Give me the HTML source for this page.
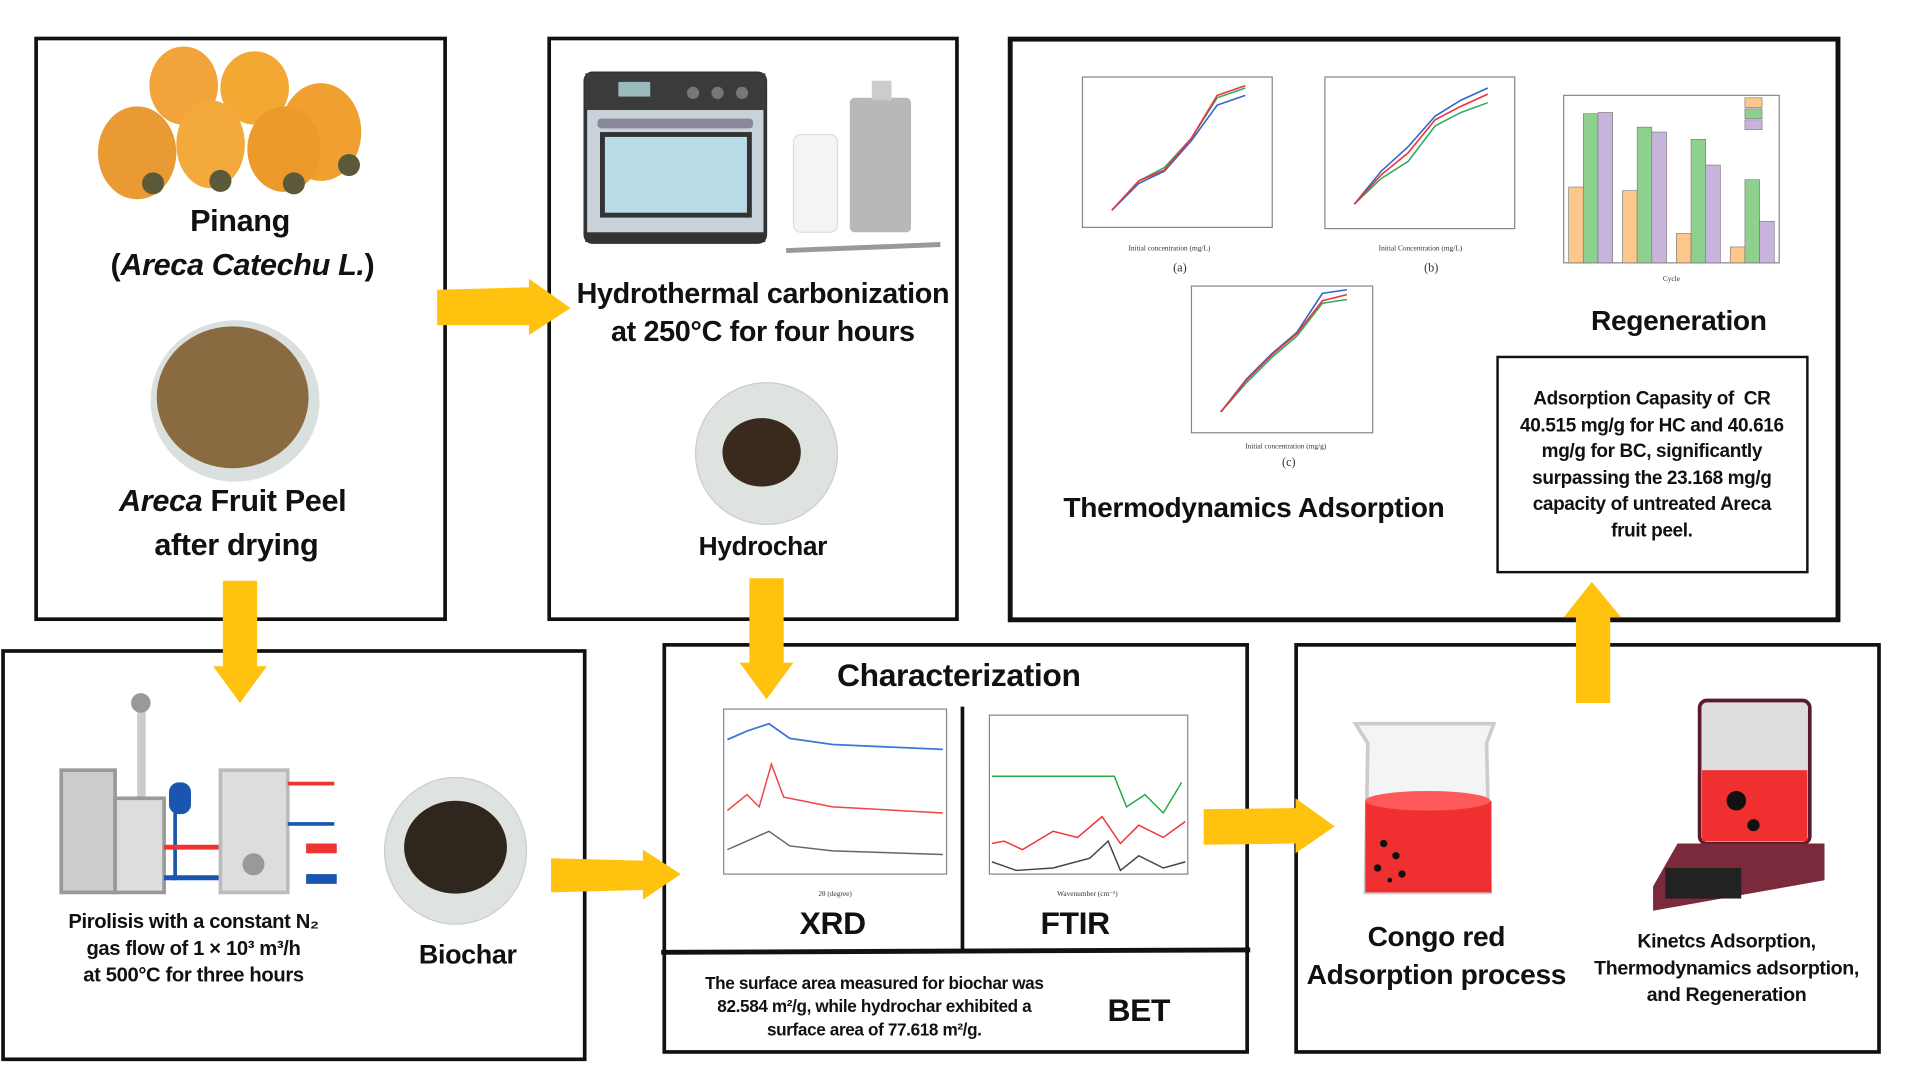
<!DOCTYPE html>
<html><head><meta charset="utf-8"><style>
html,body{margin:0;padding:0;background:#fff;width:1920px;height:1080px;overflow:hidden}
#c{position:absolute;left:0;top:0;width:1545px;height:870px;transform:scale(1.2245,1.2225);transform-origin:0 0;font-family:"Liberation Sans",sans-serif;font-weight:bold;color:#111}
.b{position:absolute;border:3px solid #111;box-sizing:border-box}
.t{position:absolute;text-align:center;white-space:nowrap;transform:translateX(-50%);letter-spacing:-0.3px}
svg{position:absolute;left:0;top:0}
</style></head><body><div id="c">
<div class="b" style="left:28px;top:30px;width:337px;height:478px"></div>
<div class="b" style="left:447px;top:30px;width:336px;height:478px"></div>
<div class="b" style="left:823px;top:30px;width:680px;height:479px;border-width:4px"></div>
<div class="b" style="left:1222px;top:291px;width:255px;height:178px;border-width:2px"></div>
<div class="b" style="left:1px;top:531px;width:478px;height:337px"></div>
<div class="b" style="left:541px;top:526px;width:479px;height:336px"></div>
<div class="b" style="left:1057px;top:526px;width:479px;height:336px"></div>
<svg width="1545" height="870" viewBox="0 0 1545 870">
<line x1="540" y1="779" x2="1021" y2="777" stroke="#111" stroke-width="4"/>
<line x1="786" y1="578" x2="786" y2="778" stroke="#111" stroke-width="3"/>
<g fill="#FFC20E">
<polygon points="357,237 432,235 432,228 466,252 432,274 432,266 357,266"/>
<polygon points="182,475 210,475 210,545 218,545 196,575 174,545 182,545"/>
<polygon points="612,473 640,473 640,542 648,542 626,572 604,542 612,542"/>
<polygon points="450,702 525,704 525,695 556,715 525,736 525,728 450,730"/>
<polygon points="983,662 1058,661 1058,653 1090,676 1058,698 1058,690 983,691"/>
<polygon points="1287,575 1315,575 1315,505 1324,505 1300,476 1277,505 1287,505"/>
</g>
<g>
<ellipse cx="150" cy="70" rx="28" ry="32" fill="#f2a33a"/>
<ellipse cx="208" cy="72" rx="28" ry="30" fill="#f4a834"/>
<ellipse cx="262" cy="108" rx="33" ry="40" fill="#f0a030"/>
<ellipse cx="112" cy="125" rx="32" ry="38" fill="#e99a33"/>
<ellipse cx="172" cy="118" rx="28" ry="36" fill="#f3aa3a"/>
<ellipse cx="232" cy="122" rx="30" ry="35" fill="#ec9a2a"/>
<circle cx="125" cy="150" r="9" fill="#5a5a3a"/><circle cx="180" cy="148" r="9" fill="#5a5a3a"/><circle cx="240" cy="150" r="9" fill="#5a5a3a"/><circle cx="285" cy="135" r="9" fill="#5a5a3a"/>
</g>
<ellipse cx="192" cy="328" rx="69" ry="66" fill="#d9e0dd"/><ellipse cx="190" cy="325" rx="62" ry="58" fill="#8a6a40"/>
<rect x="478" y="60" width="147" height="138" rx="6" fill="#c9d2d8" stroke="#333" stroke-width="3"/>
<rect x="478" y="60" width="147" height="30" fill="#3b3b3b"/>
<rect x="505" y="67" width="26" height="12" fill="#9bb"/>
<circle cx="566" cy="76" r="5" fill="#777"/><circle cx="586" cy="76" r="5" fill="#777"/><circle cx="606" cy="76" r="5" fill="#777"/>
<rect x="488" y="97" width="127" height="8" rx="3" fill="#889"/>
<rect x="492" y="110" width="120" height="66" fill="#b8dce6" stroke="#333" stroke-width="4"/>
<rect x="478" y="190" width="147" height="8" fill="#333"/>
<rect x="648" y="110" width="36" height="80" rx="6" fill="#f4f4f4" stroke="#ddd"/>
<rect x="694" y="80" width="50" height="110" rx="4" fill="#b8b8b8"/><rect x="712" y="66" width="16" height="16" fill="#ccc"/>
<line x1="642" y1="205" x2="768" y2="200" stroke="#999" stroke-width="4"/>
<ellipse cx="626" cy="371" rx="58" ry="58" fill="#dfe3e0" stroke="#ccc"/><ellipse cx="622" cy="370" rx="32" ry="28" fill="#3a2a1e"/>
<rect x="112" y="578" width="7" height="80" fill="#ccc"/><circle cx="115" cy="575" r="8" fill="#999"/>
<rect x="50" y="630" width="44" height="100" fill="#ccc" stroke="#999" stroke-width="3"/>
<rect x="94" y="653" width="40" height="77" fill="#ddd" stroke="#999" stroke-width="3"/>
<rect x="138" y="640" width="18" height="26" rx="8" fill="#1a55b0"/>
<line x1="143" y1="665" x2="143" y2="720" stroke="#1a55b0" stroke-width="3"/>
<line x1="134" y1="693" x2="180" y2="693" stroke="#e33" stroke-width="4"/>
<line x1="134" y1="718" x2="180" y2="718" stroke="#1a55b0" stroke-width="4"/>
<rect x="180" y="630" width="55" height="100" fill="#ddd" stroke="#bbb" stroke-width="3"/><circle cx="207" cy="707" r="9" fill="#999"/>
<line x1="235" y1="641" x2="273" y2="641" stroke="#e33" stroke-width="3"/><line x1="235" y1="674" x2="273" y2="674" stroke="#1a55b0" stroke-width="3"/>
<rect x="250" y="690" width="25" height="8" fill="#e33"/><rect x="250" y="715" width="25" height="8" fill="#1a55b0"/>
<ellipse cx="372" cy="696" rx="58" ry="60" fill="#dfe3e0" stroke="#ccc"/><ellipse cx="372" cy="693" rx="42" ry="38" fill="#2f261e"/>
<polygon points="1107,592 1220,592 1214,608 1217,730 1115,730 1117,608" fill="#f4f4f4" stroke="#ccc" stroke-width="3"/>
<rect x="1115" y="655" width="103" height="75" fill="#f03030"/>
<ellipse cx="1166" cy="655" rx="51" ry="8" fill="#ff5a5a"/>
<g fill="#111"><circle cx="1130" cy="690" r="3"/><circle cx="1140" cy="700" r="3"/><circle cx="1125" cy="710" r="3"/><circle cx="1145" cy="715" r="3"/><circle cx="1135" cy="720" r="2"/></g>
<rect x="1388" y="573" width="90" height="117" rx="6" fill="#ddd" stroke="#5a1a2a" stroke-width="3"/>
<rect x="1390" y="630" width="86" height="58" fill="#f03030"/>
<circle cx="1418" cy="655" r="8" fill="#111"/><circle cx="1432" cy="675" r="5" fill="#111"/>
<polygon points="1370,690 1490,690 1490,720 1350,745 1350,725" fill="#7a2a3a"/>
<rect x="1360" y="710" width="62" height="25" fill="#222"/>
<g font-family="Liberation Serif" font-weight="normal" font-size="6" fill="#333">
<rect x="884" y="63" width="155" height="123" fill="none" stroke="#888"/>
<polyline points="908,172 930,148 951,137 973,113 994,80 1017,72" fill="none" stroke="#3a6" stroke-width="1.3"/>
<polyline points="908,172 930,150 951,140 973,115 994,86 1017,78" fill="none" stroke="#36c" stroke-width="1.3"/>
<polyline points="908,172 930,148 951,139 973,113 994,78 1017,70" fill="none" stroke="#e33" stroke-width="1.3"/>
<text x="955" y="205" text-anchor="middle">Initial concentration (mg/L)</text><text x="958" y="222" font-size="10">(a)</text>
<rect x="1082" y="63" width="155" height="124" fill="none" stroke="#888"/>
<polyline points="1106,167 1128,140 1150,120 1172,95 1193,82 1215,72" fill="none" stroke="#36c" stroke-width="1.3"/>
<polyline points="1106,167 1128,146 1150,132 1172,103 1193,92 1215,84" fill="none" stroke="#3a6" stroke-width="1.3"/>
<polyline points="1106,167 1128,143 1150,125 1172,98 1193,87 1215,77" fill="none" stroke="#e33" stroke-width="1.3"/>
<text x="1160" y="205" text-anchor="middle">Initial Concentration (mg/L)</text><text x="1163" y="222" font-size="10">(b)</text>
<rect x="1277" y="78" width="176" height="137" fill="none" stroke="#888"/>
<g stroke="#777" stroke-width="0.5">
<rect x="1281" y="153" width="12" height="62" fill="#fcc78a"/><rect x="1293" y="93" width="12" height="122" fill="#8ed08e"/><rect x="1305" y="92" width="12" height="123" fill="#c7b3dc"/>
<rect x="1325" y="156" width="12" height="59" fill="#fcc78a"/><rect x="1337" y="104" width="12" height="111" fill="#8ed08e"/><rect x="1349" y="108" width="12" height="107" fill="#c7b3dc"/>
<rect x="1369" y="191" width="12" height="24" fill="#fcc78a"/><rect x="1381" y="114" width="12" height="101" fill="#8ed08e"/><rect x="1393" y="135" width="12" height="80" fill="#c7b3dc"/>
<rect x="1413" y="202" width="12" height="13" fill="#fcc78a"/><rect x="1425" y="147" width="12" height="68" fill="#8ed08e"/><rect x="1437" y="181" width="12" height="34" fill="#c7b3dc"/>
<rect x="1425" y="80" width="14" height="8" fill="#fcc78a"/><rect x="1425" y="89" width="14" height="8" fill="#8ed08e"/><rect x="1425" y="98" width="14" height="8" fill="#c7b3dc"/></g>
<text x="1365" y="230" text-anchor="middle">Cycle</text>
<rect x="973" y="234" width="148" height="120" fill="none" stroke="#888"/>
<polyline points="997,337 1018,310 1039,289 1059,272 1080,240 1100,237" fill="none" stroke="#36c" stroke-width="1.3"/>
<polyline points="997,337 1018,313 1039,292 1059,275 1080,248 1100,245" fill="none" stroke="#3a6" stroke-width="1.3"/>
<polyline points="997,337 1018,311 1039,290 1059,273 1080,246 1100,241" fill="none" stroke="#e33" stroke-width="1.3"/>
<text x="1050" y="367" text-anchor="middle">Initial concentration (mg/g)</text><text x="1047" y="381" font-size="10">(c)</text>
<rect x="591" y="580" width="182" height="135" fill="none" stroke="#888"/>
<polyline points="594,605 610,598 628,592 645,604 680,609 770,613" fill="none" stroke="#3a7ad8" stroke-width="1.5"/>
<polyline points="594,663 610,650 620,660 630,625 640,652 680,660 770,665" fill="none" stroke="#e44" stroke-width="1.2"/>
<polyline points="594,695 610,688 628,680 645,692 680,696 770,699" fill="none" stroke="#666" stroke-width="1.2"/>
<text x="682" y="733" text-anchor="middle">2θ (degree)</text>
<rect x="808" y="585" width="162" height="130" fill="none" stroke="#888"/>
<polyline points="810,635 910,635 920,660 935,650 950,665 965,640" fill="none" stroke="#2a4" stroke-width="1.2"/>
<polyline points="810,690 820,688 835,695 860,680 880,685 900,668 915,690 930,675 950,685 968,672" fill="none" stroke="#e33" stroke-width="1.2"/>
<polyline points="810,705 830,712 860,710 890,702 905,688 915,712 930,700 950,710 968,705" fill="none" stroke="#444" stroke-width="1.2"/>
<text x="888" y="733" text-anchor="middle">Wavenumber (cm⁻¹)</text>
</g>
</svg>
<div class="t" style="left:196px;top:167px;font-size:25px">Pinang</div>
<div class="t" style="left:198px;top:203px;font-size:25px">(<i>Areca Catechu L.</i>)</div>
<div class="t" style="left:190px;top:396px;font-size:25px"><i>Areca</i> Fruit Peel</div>
<div class="t" style="left:193px;top:432px;font-size:25px">after drying</div>
<div class="t" style="left:623px;top:227px;font-size:23.5px">Hydrothermal carbonization</div>
<div class="t" style="left:623px;top:258px;font-size:23.5px">at 250°C for four hours</div>
<div class="t" style="left:623px;top:435px;font-size:21.5px">Hydrochar</div>
<div class="t" style="left:1024px;top:402px;font-size:23px">Thermodynamics Adsorption</div>
<div class="t" style="left:1371px;top:249px;font-size:23px">Regeneration</div>
<div class="t" style="left:1349px;top:316px;font-size:15.5px;line-height:21.5px">Adsorption Capasity of&nbsp; CR<br>40.515 mg/g for HC and 40.616<br>mg/g for BC, significantly<br>surpassing the 23.168 mg/g<br>capacity of untreated Areca<br>fruit peel.</div>
<div class="t" style="left:158px;top:743px;font-size:16.5px;line-height:22px">Pirolisis with a constant N₂<br>gas flow of 1 × 10³ m³/h<br>at 500°C for three hours</div>
<div class="t" style="left:382px;top:768px;font-size:22px">Biochar</div>
<div class="t" style="left:783px;top:537px;font-size:26px">Characterization</div>
<div class="t" style="left:680px;top:740px;font-size:26px">XRD</div>
<div class="t" style="left:878px;top:740px;font-size:26px">FTIR</div>
<div class="t" style="left:930px;top:811px;font-size:26px">BET</div>
<div class="t" style="left:714px;top:795px;font-size:14px;line-height:19px">The surface area measured for biochar was<br>82.584 m²/g, while hydrochar exhibited a<br>surface area of 77.618 m²/g.</div>
<div class="t" style="left:1173px;top:751px;font-size:23px;line-height:31px">Congo red<br>Adsorption process</div>
<div class="t" style="left:1410px;top:760px;font-size:16px;line-height:22px">Kinetcs Adsorption,<br>Thermodynamics adsorption,<br>and Regeneration</div>
</div></body></html>
